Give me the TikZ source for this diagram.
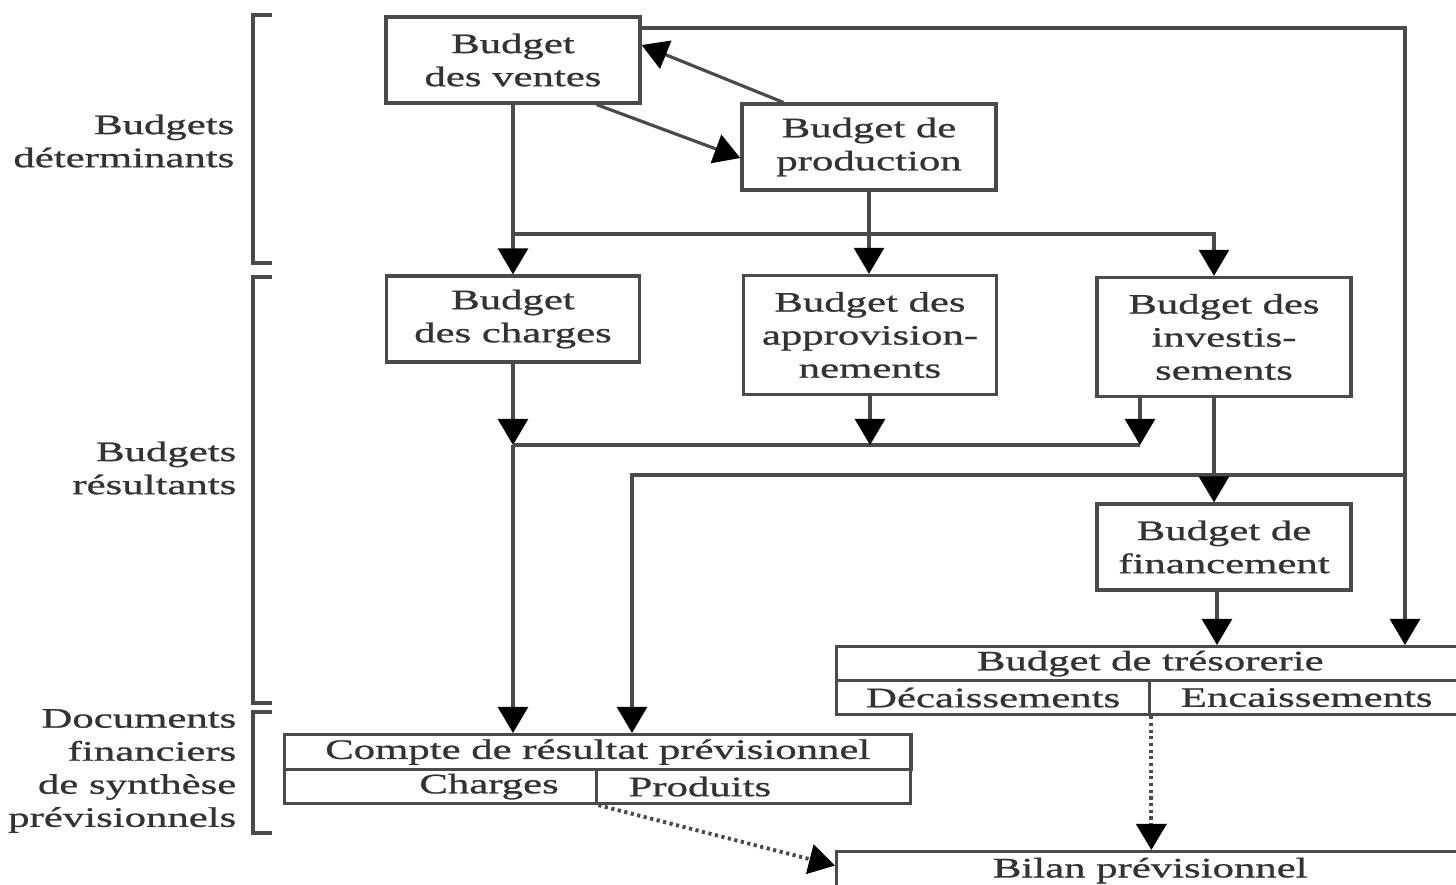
\documentclass[tikz,border=0pt]{standalone}
\usepackage{fontspec}
\setmainfont{Liberation Serif}[FakeStretch=1.52, FakeBold=0.9]
\usetikzlibrary{arrows.meta,positioning}
\definecolor{lncol}{HTML}{4A4A4A}
\definecolor{txcol}{HTML}{333333}
\tikzset{
    bbox/.style={draw=lncol, line width=0.9pt, align=center, inner sep=0pt, text=txcol},
    cell/.style={draw=lncol, line width=0.9pt, inner sep=0pt, anchor=north west, text=txcol},
    side/.style={align=right, anchor=east, inner sep=0pt, text=txcol},
    ln/.style={draw=lncol, line width=0.9pt},
    arr/.style={ln, -{Triangle[width=8.5pt,length=7.4pt,color=black]}},
    brak/.style={draw=lncol, line width=0.9pt}
}

\begin{document}
\begin{tikzpicture}[x=0.01cm, y=-0.01cm, font=\fontsize{8}{9.4}\selectfont]
    \useasboundingbox (0,0) rectangle (1456,885);
    \node[side] (det) at (235,141) {Budgets\\déterminants};
    \node[side] (res) at (237,468) {Budgets\\résultants};
    \node[side] (doc) at (237,771) {Documents\\financiers\\de synthèse\\prévisionnels};
    \draw[brak] (272,15) -- (253,15) -- (253,263) -- (272,263);
    \draw[brak] (272,277) -- (253,277) -- (253,703) -- (272,703);
    \draw[brak] (272,712) -- (253,712) -- (253,833) -- (272,833);

    \node[bbox, minimum width=2.54cm, minimum height=8.6mm] (ventes) at (513,60) {Budget\\des ventes};
    \node[bbox, minimum width=2.54cm, minimum height=8.6mm] (prod) at (869,147) {Budget de\\production};
    \node[bbox, minimum width=2.53cm, minimum height=8.6mm] (charges) at (513,319) {Budget\\des charges};
    \node[bbox, minimum width=2.53cm, minimum height=11.9mm] (appro) at (870,335) {Budget des\\approvision-\\nements};
    \node[bbox, minimum width=2.54cm, minimum height=11.9mm] (invest) at (1224,337) {Budget des\\investis-\\sements};
    \node[bbox, minimum width=2.54cm, minimum height=8.6mm] (finan) at (1224,547) {Budget de\\financement};

    \node[cell, minimum width=6.27cm, minimum height=3.4mm] (tresoT) at (835,645) {Budget de trésorerie};
    \node[cell, minimum width=3.13cm, minimum height=3.4mm] (tresoD) at (835,679) {Décaissements};
    \node[cell, minimum width=3.14cm, minimum height=3.4mm] (tresoE) at (1148,679) {Encaissements};

    \node[cell, minimum width=6.26cm, minimum height=3.5mm] (compteT) at (283,733) {Compte de résultat prévisionnel};
    \node[cell, minimum width=3.12cm, minimum height=3.4mm, text width=2.36cm, align=right] (compteC) at (283,768) {Charges};
    \node[cell, minimum width=3.14cm, minimum height=3.4mm, text width=2.5cm, align=left] (compteP) at (595,768) {Produits};

    \node[cell, minimum width=6.27cm, minimum height=3.8mm] (bilan) at (835,850) {Bilan prévisionnel};

    \coordinate (jv) at (513,234);
    \coordinate (ja) at (513,445);
    \coordinate (jc) at (1140,445);
    \coordinate (jr) at (1405,475);
    \coordinate (jl) at (632,475);

    \draw[arr] (ventes.south) -- (ventes.south |- charges.north);
    \draw[arr] (jv) -| ([xshift=-1mm]invest.north);
    \draw[arr] (prod.south) -- (prod.south |- appro.north);
    \draw[arr] ([xshift=4.3mm]prod.north west) -- ([yshift=1.5mm]ventes.east);
    \draw[arr] ([xshift=-4.5mm]ventes.south east) -- ([yshift=-1.1mm]prod.west);
    \draw[arr] ([yshift=3.2mm]ventes.east) -| (jr) -- (jr |- tresoT.north);
    \draw[arr] (jr) -- (jl) -- (jl |- compteT.north);

    \draw[arr] (charges.south -| ja) -- (ja);
    \draw[ln] (ja) -- (jc);
    \draw[arr] (ja) -- (ja |- compteT.north);
    \draw[arr] (appro.south) -- (appro.south |- ja);
    \draw[arr] (invest.south -| jc) -- (jc);
    \draw[arr] ([xshift=-1mm]invest.south) -- ([xshift=-1mm]finan.north);
    \draw[arr] ([xshift=-0.7mm]finan.south) -- ([xshift=-0.7mm]finan.south |- tresoT.north);
    \draw[arr, densely dotted, line width=1.1pt] (tresoD.south east) -- (tresoD.south east |- bilan.north);
    \draw[arr, densely dotted, line width=1.1pt] (compteC.south east) -- ([yshift=0.5mm]bilan.west);
\end{tikzpicture}
\end{document}
